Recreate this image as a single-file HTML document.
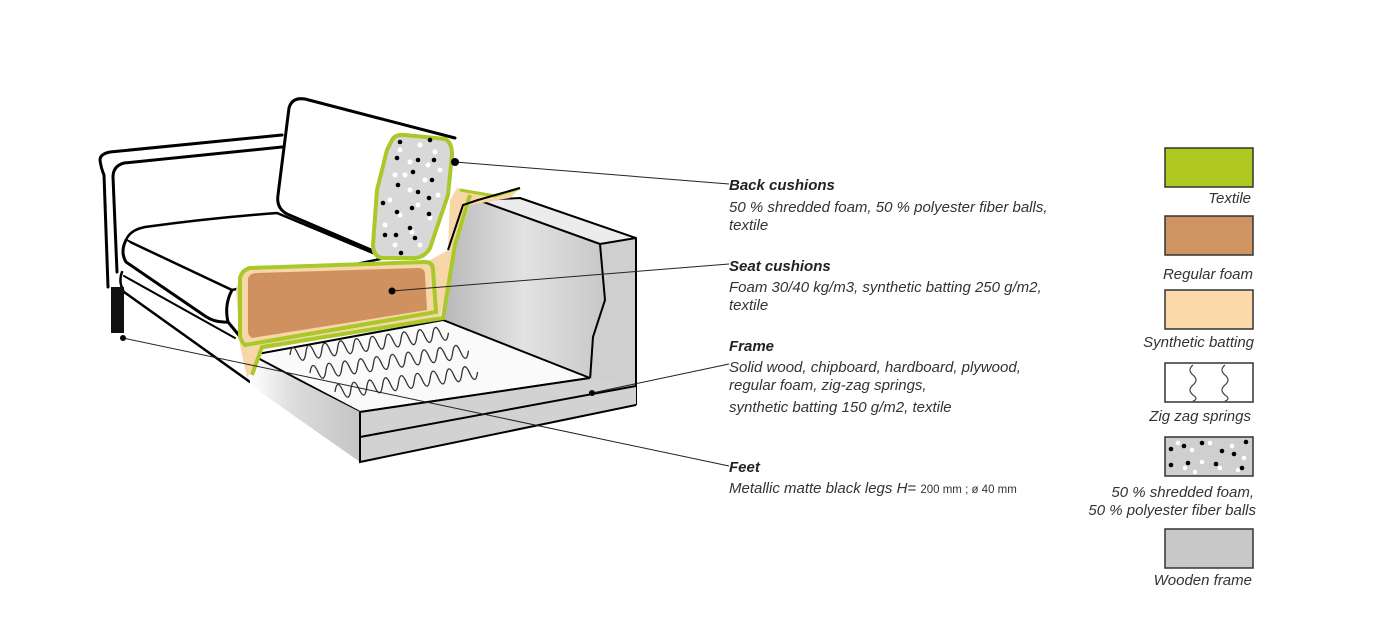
<!DOCTYPE html>
<html><head><meta charset="utf-8"><style>
html,body{margin:0;padding:0;background:#fff;}
body{width:1400px;height:643px;position:relative;overflow:hidden;font-family:"Liberation Sans",sans-serif;}
svg{position:absolute;left:0;top:0;}
</style></head><body>
<svg width="1400" height="643" viewBox="0 0 1400 643">
<defs>
<linearGradient id="gw" x1="0" y1="0" x2="1" y2="0"><stop offset="0" stop-color="#b8b8b8"/><stop offset="0.5" stop-color="#e2e2e2"/><stop offset="1" stop-color="#c8c8c8"/></linearGradient>
<linearGradient id="gf" x1="0" y1="0" x2="1" y2="0"><stop offset="0" stop-color="#fff"/><stop offset="0.4" stop-color="#dcdcdc"/><stop offset="1" stop-color="#c4c4c4"/></linearGradient>
</defs>
<g fill="none" stroke="#000" stroke-width="3" stroke-linejoin="round" stroke-linecap="round">
<!-- arm -->
<path d="M282,135 L110,152 Q100,154 100,160 Q101,168 104,175 L108,287"/>
<path d="M282,147 L124,163 Q113,166 113,177 L117,272"/>
<!-- back cushion -->
<path d="M455,138 L305,99 Q292,97 289,108 L278,195 Q276,208 287,214 L390,258" fill="#fff"/>
<!-- seat cushion -->
<path d="M126,240 Q130,230 145,227 Q210,218 277,213 L385,258 L232,290 Z" fill="#fff" stroke-width="2.5"/>
<path d="M126,240 Q120,252 126,262 L205,316 Q215,323 228,322" fill="#fff"/>
<path d="M232,290 Q224,305 228,322 L247,345"/>
<!-- base -->
<path d="M122,272 Q118,282 124,292 L250,382" stroke-width="2.5"/>
<path d="M124,276 L235,338" stroke-width="2"/>
</g>
<!-- leg -->
<rect x="111" y="287" width="13" height="46" fill="#111"/>
<!-- grey frame inner wall -->
<polygon points="448,250 463,205 478,200 600,244 605,300 593,337 590,380 560,377 443,320" fill="url(#gw)"/>
<polygon points="600,244 636,238 636,386 590,392 590,380 593,337 605,300" fill="#cfcfcf"/>
<polygon points="478,200 520,198 636,238 600,244" fill="#ececec" stroke="#000" stroke-width="2" stroke-linejoin="round"/>
<path d="M600,244 L605,300 L593,337 L590,380 M636,238 L636,405" fill="none" stroke="#000" stroke-width="2"/>
<!-- platform -->
<polygon points="252,355 443,320 590,378 360,412" fill="#fafafa" stroke="#000" stroke-width="2" stroke-linejoin="round"/>
<!-- left face -->
<polygon points="250,356 360,412 360,462 250,385" fill="url(#gf)"/>
<!-- front face -->
<polygon points="360,412 590,378 636,386 636,405 360,462" fill="#d2d2d2"/>
<path d="M360,412 L590,378 M360,437 L636,386 M360,412 L360,462 L636,405" stroke="#000" stroke-width="2" fill="none"/>
<!-- springs -->
<g fill="none" stroke="#333" stroke-width="1.3">
<path d="M290,355 q4,-14 8,0 q4,14 8,0 q4,-14 8,0 q4,14 8,0 q4,-14 8,0 q4,14 8,0 q4,-14 8,0 q4,14 8,0 q4,-14 8,0 q4,14 8,0 q4,-14 8,0 q4,14 8,0 q4,-14 8,0 q4,14 8,0 q4,-14 8,0 q4,14 8,0 q4,-14 8,0 q4,14 8,0 q4,-14 8,0 q4,14 8,0" transform="rotate(-8 290 355)"/>
<path d="M310,373 q4,-14 8,0 q4,14 8,0 q4,-14 8,0 q4,14 8,0 q4,-14 8,0 q4,14 8,0 q4,-14 8,0 q4,14 8,0 q4,-14 8,0 q4,14 8,0 q4,-14 8,0 q4,14 8,0 q4,-14 8,0 q4,14 8,0 q4,-14 8,0 q4,14 8,0 q4,-14 8,0 q4,14 8,0 q4,-14 8,0 q4,14 8,0" transform="rotate(-8 310 373)"/>
<path d="M335,392 q4,-14 8,0 q4,14 8,0 q4,-14 8,0 q4,14 8,0 q4,-14 8,0 q4,14 8,0 q4,-14 8,0 q4,14 8,0 q4,-14 8,0 q4,14 8,0 q4,-14 8,0 q4,14 8,0 q4,-14 8,0 q4,14 8,0 q4,-14 8,0 q4,14 8,0 q4,-14 8,0 q4,14 8,0" transform="rotate(-8 335 392)"/>
</g>
<!-- green side strip & seat cut -->
<path d="M457,188 L493,194 L520,188 L510,198 L470,205 L455,250 L440,318 L262,350 L252,370 L247,378 L240,345 L236,290 L240,275 L425,263 L448,250 L450,200 Z" fill="#f7d6a7"/>
<path d="M470,195 L455,245 L443,318 L262,347 L252,375" fill="none" stroke="#a9c92a" stroke-width="4"/>
<path d="M460,190 L495,196 L520,188" fill="none" stroke="#a9c92a" stroke-width="3"/>
<path d="M240,278 Q242,270 250,268 L425,262 Q433,262 433,270 L436,312 L245,345 Q240,340 240,335 Z" fill="#f7d6a7" stroke="#a9c92a" stroke-width="4"/>
<path d="M248,280 Q248,274 256,273 L418,268 Q425,268 425,275 L427,310 L252,338 Q248,336 248,330 Z" fill="#d09160"/>
<path d="M520,188 L478,200 L463,205 L448,250" fill="none" stroke="#000" stroke-width="2"/>
<!-- back cushion cut -->
<path d="M392,140 Q395,134 405,135 L445,139 Q452,142 452,155 L448,195 L430,248 Q425,257 415,258 L382,258 Q373,256 373,245 L377,190 L387,150 Z" fill="#d8d8d8" stroke="#a9c92a" stroke-width="4"/>
<g fill="#fff">
<circle cx="400" cy="150" r="2.5"/><circle cx="420" cy="145" r="2.5"/><circle cx="435" cy="152" r="2.5"/><circle cx="410" cy="162" r="2.5"/><circle cx="440" cy="170" r="2.5"/><circle cx="395" cy="175" r="2.5"/><circle cx="425" cy="180" r="2.5"/><circle cx="410" cy="190" r="2.5"/><circle cx="438" cy="195" r="2.5"/><circle cx="390" cy="200" r="2.5"/><circle cx="418" cy="205" r="2.5"/><circle cx="400" cy="215" r="2.5"/><circle cx="430" cy="218" r="2.5"/><circle cx="385" cy="225" r="2.5"/><circle cx="412" cy="232" r="2.5"/><circle cx="395" cy="245" r="2.5"/><circle cx="420" cy="245" r="2.5"/><circle cx="405" cy="175" r="2.5"/><circle cx="428" cy="165" r="2.5"/>
</g>
<g fill="#000">
<circle cx="400" cy="142" r="2.3"/><circle cx="430" cy="140" r="2.3"/><circle cx="397" cy="158" r="2.3"/><circle cx="418" cy="160" r="2.3"/><circle cx="434" cy="160" r="2.3"/><circle cx="413" cy="172" r="2.3"/><circle cx="432" cy="180" r="2.3"/><circle cx="398" cy="185" r="2.3"/><circle cx="418" cy="192" r="2.3"/><circle cx="429" cy="198" r="2.3"/><circle cx="383" cy="203" r="2.3"/><circle cx="412" cy="208" r="2.3"/><circle cx="429" cy="214" r="2.3"/><circle cx="397" cy="212" r="2.3"/><circle cx="410" cy="228" r="2.3"/><circle cx="385" cy="235" r="2.3"/><circle cx="396" cy="235" r="2.3"/><circle cx="415" cy="238" r="2.3"/><circle cx="401" cy="253" r="2.3"/>
</g>
<!-- leaders -->
<g stroke="#222" stroke-width="1" fill="none">
<path d="M455,162 L729,184"/><path d="M392,291 L729,264"/><path d="M592,393 L729,364"/><path d="M123,338 L729,466"/>
</g>
<circle cx="455" cy="162" r="4" fill="#000"/><circle cx="392" cy="291" r="3.5" fill="#000"/><circle cx="592" cy="393" r="3" fill="#000"/><circle cx="123" cy="338" r="3" fill="#000"/>
<!-- labels -->
<g font-family="Liberation Sans, sans-serif" font-style="italic" font-size="15" fill="#333">
<text x="729" y="190" font-weight="bold" fill="#222">Back cushions</text>
<text x="729" y="212">50 % shredded foam, 50 % polyester fiber balls,</text>
<text x="729" y="230">textile</text>
<text x="729" y="271" font-weight="bold" fill="#222">Seat cushions</text>
<text x="729" y="292">Foam 30/40 kg/m3, synthetic batting 250 g/m2,</text>
<text x="729" y="310">textile</text>
<text x="729" y="351" font-weight="bold" fill="#222">Frame</text>
<text x="729" y="372">Solid wood, chipboard, hardboard, plywood,</text>
<text x="729" y="390">regular foam, zig-zag springs,</text>
<text x="729" y="412">synthetic batting 150 g/m2, textile</text>
<text x="729" y="472" font-weight="bold" fill="#222">Feet</text>
<text x="729" y="493">Metallic matte black legs H= <tspan font-style="normal" font-size="11.5">200 mm ; ø 40 mm</tspan></text>
</g>
<!-- legend -->
<g stroke="#333" stroke-width="1.5">
<rect x="1165" y="148" width="88" height="39" fill="#b0c920"/>
<rect x="1165" y="216" width="88" height="39" fill="#d09463"/>
<rect x="1165" y="290" width="88" height="39" fill="#fcd9aa"/>
<rect x="1165" y="363" width="88" height="39" fill="#fff"/>
<rect x="1165" y="437" width="88" height="39" fill="#cfcfcf"/>
<rect x="1165" y="529" width="88" height="39" fill="#c8c8c8"/>
</g>
<g fill="none" stroke="#444" stroke-width="1.2">
<path d="M1193,365 q-6,5 0,10 q6,5 0,10 q-6,5 0,10 q6,4 0,6"/>
<path d="M1225,365 q-6,5 0,10 q6,5 0,10 q-6,5 0,10 q6,4 0,6"/>
</g>
<g fill="#fff"><circle cx="1178" cy="443" r="2.3"/><circle cx="1192" cy="450" r="2.3"/><circle cx="1210" cy="443" r="2.3"/><circle cx="1232" cy="446" r="2.3"/><circle cx="1185" cy="468" r="2.3"/><circle cx="1202" cy="462" r="2.3"/><circle cx="1220" cy="468" r="2.3"/><circle cx="1244" cy="458" r="2.3"/><circle cx="1195" cy="472" r="2.3"/><circle cx="1238" cy="470" r="2.3"/></g>
<g fill="#000"><circle cx="1171" cy="449" r="2.3"/><circle cx="1184" cy="446" r="2.3"/><circle cx="1202" cy="443" r="2.3"/><circle cx="1222" cy="451" r="2.3"/><circle cx="1234" cy="454" r="2.3"/><circle cx="1246" cy="442" r="2.3"/><circle cx="1171" cy="465" r="2.3"/><circle cx="1188" cy="463" r="2.3"/><circle cx="1216" cy="464" r="2.3"/><circle cx="1242" cy="468" r="2.3"/></g>
<g font-family="Liberation Sans, sans-serif" font-style="italic" font-size="15" fill="#333" text-anchor="end">
<text x="1251" y="203">Textile</text>
<text x="1253" y="279">Regular foam</text>
<text x="1254" y="347">Synthetic batting</text>
<text x="1251" y="421">Zig zag springs</text>
<text x="1254" y="497">50 % shredded foam,</text>
<text x="1256" y="515">50 % polyester fiber balls</text>
<text x="1252" y="585">Wooden frame</text>
</g>
</svg>
</body></html>
